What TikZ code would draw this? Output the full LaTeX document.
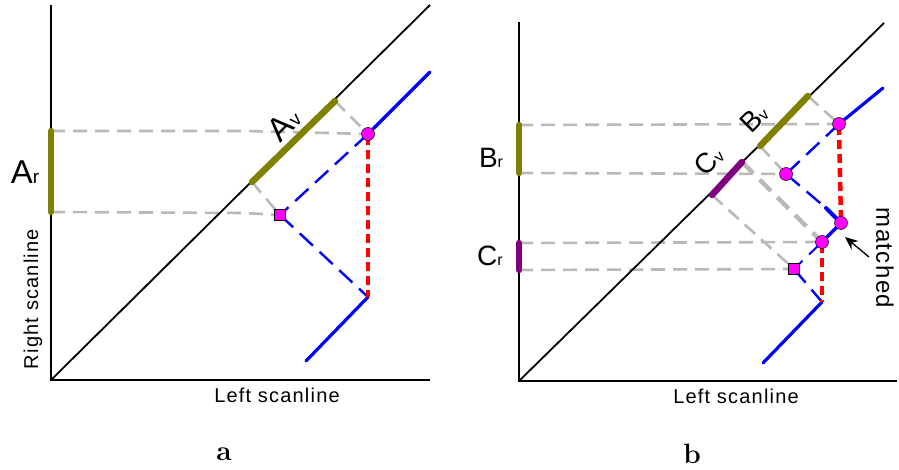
\documentclass[tikz,border=0pt]{standalone}
\usepackage{fontspec}
\newfontfamily\lab[LetterSpace=6]{Liberation Sans}
\newfontfamily\labn{Liberation Sans}
\usetikzlibrary{arrows.meta}
\definecolor{olivebar}{RGB}{128,128,0}
\definecolor{purplebar}{RGB}{128,0,128}
\definecolor{magpt}{RGB}{255,0,255}
\definecolor{grayline}{RGB}{185,185,185}
\tikzset{
  axis/.style={black,line width=2.1pt},
  rbar/.style={line width=6.5pt,line cap=round},
  proj/.style={grayline,line width=2.6pt,dash pattern=on 14pt off 8pt},
  projthick/.style={grayline,line width=4.5pt,dash pattern=on 16pt off 9pt},
  bsolid/.style={blue,line width=3.2pt,line cap=round},
  bdash/.style={blue,line width=2.4pt,dash pattern=on 18pt off 9pt},
  rdash/.style={red,line width=4.5pt,dash pattern=on 9pt off 5pt},
  dotc/.style={circle,fill=magpt,draw=black,line width=0.5pt,inner sep=0pt,minimum size=13pt},
  dots/.style={rectangle,fill=magpt,draw=black,line width=0.5pt,inner sep=0pt,minimum size=11pt},
  sublabA/.style={font=\labn\fontsize{33}{34}\selectfont,inner sep=0pt},
  sublabB/.style={font=\labn\fontsize{28}{30}\selectfont,inner sep=0pt},
  axlab/.style={font=\lab\fontsize{20}{22}\selectfont,inner sep=0pt},
}
\newcommand{\subt}[3]{#1{\fontsize{#3}{#3}\selectfont #2}}
\begin{document}
\begin{tikzpicture}[x=1pt,y=-1pt]
\useasboundingbox (0,0) rectangle (899,470);
% ================= panel a =================
\coordinate (aO) at (51,380);
\coordinate (aT) at (51,5);
\coordinate (aR) at (430,380);
\coordinate (aD) at (430,5);
\coordinate (ArT) at (51,131);
\coordinate (ArB) at (51,212);
\coordinate (AvB) at (252,182);
\coordinate (AvT) at (335,101);
\coordinate (aK) at (245,131);
\coordinate (aK2) at (245,213);
\coordinate (aBt) at (430,72);
\coordinate (aV) at (368,297);
\coordinate (aBe) at (306,361);
% gray projections
\draw[proj] (ArT) -- (aK) -- (368,134);
\draw[proj] (ArB) -- (aK2) -- (280,215);
\draw[proj] (AvT) -- (368,134);
\draw[proj] (AvB) -- (280,215);
% axes
\draw[axis] (aT) -- (aO) -- (aR);
\draw[axis,line width=1.8pt] (aO) -- (aD);
% bars
\draw[rbar,olivebar] (ArT) -- (ArB);
\draw[rbar,olivebar] (AvB) -- (AvT);
% blue
\draw[bsolid] (aBt) -- (368,134);
\draw[bdash] (368,134) -- (280,215);
\draw[bdash] (280,215) -- (aV);
\draw[bsolid] (aV) -- (aBe);
\draw[rdash] (368,136) -- (aV);
\node[dotc] (aP1) at (368,134) {};
\node[dots] (aP2) at (280,215) {};
% labels
\node[sublabA] (Ar) at (25,172) {\subt{A}{r}{19}};
\node[sublabA,rotate=45] (Av) at (284,124) {\subt{A}{v}{19}};
\node[axlab,rotate=90] (rsl) at (33,299) {Right scanline};
\node[axlab] (lsla) at (277,395) {Left scanline};
\node[font=\bfseries\fontsize{28}{30}\selectfont,inner sep=0pt] (la) at (224,454) {a};
% ================= panel b =================
\coordinate (bO) at (519,381);
\coordinate (bT) at (519,22);
\coordinate (bR) at (897,381);
\coordinate (bD) at (884,23);
\coordinate (BrT) at (519,125);
\coordinate (BrB) at (519,173);
\coordinate (CrT) at (519,243);
\coordinate (CrB) at (519,270);
\coordinate (BvB) at (760,146);
\coordinate (BvT) at (808,96);
\coordinate (CvB) at (712,195);
\coordinate (CvT) at (742,162);
\coordinate (P1) at (839,124);
\coordinate (P2) at (786,174);
\coordinate (P3) at (841,223);
\coordinate (P4) at (822,242);
\coordinate (P5) at (794,269);
\coordinate (bBt) at (883,88);
\coordinate (bV) at (822,302);
\coordinate (bBe) at (763,363);
\coordinate (bS) at (826,208);
% gray projections
\draw[proj] (BrT) -- (P1);
\draw[proj] (BrB) -- (P2);
\draw[proj] (CrT) -- (P4);
\draw[proj] (CrB) -- (P5);
\draw[proj] (BvT) -- (P1);
\draw[proj] (BvB) -- (P2);
\draw[projthick] (CvT) -- (P4);
\draw[proj] (CvB) -- (P5);
% axes
\draw[axis] (bT) -- (bO) -- (bR);
\draw[axis,line width=1.8pt] (bO) -- (bD);
% bars
\draw[rbar,olivebar] (BrT) -- (BrB);
\draw[rbar,purplebar] (CrT) -- (CrB);
\draw[rbar,olivebar] (BvB) -- (BvT);
\draw[rbar,purplebar] (CvB) -- (CvT);
% blue
\draw[bsolid] (bBt) -- (P1);
\draw[bdash] (P1) -- (P2);
\draw[bdash] (P2) -- (bS);
\draw[bsolid,line width=4pt] (bS) -- (P3);
\draw[bsolid] (P3) -- (P4);
\draw[bdash,line width=2pt] (P4) -- (P5);
\draw[bdash] (P5) -- (bV);
\draw[bsolid] (bV) -- (bBe);
\draw[rdash] (839,126) -- (P3);
\draw[rdash] (822,244) -- (bV);
\node[dotc] (bP1) at (P1) {};
\node[dotc] (bP2) at (P2) {};
\node[dotc] (bP3) at (P3) {};
\node[dotc] (bP4) at (P4) {};
\node[dots] (bP5) at (P5) {};
% labels
\node[sublabB] (Br) at (491,158) {\subt{B}{r}{16}};
\node[sublabB] (Cr) at (490,256) {\subt{C}{r}{16}};
\node[sublabB,rotate=45] (Bv) at (754,118) {\subt{B}{v}{16}};
\node[sublabB,rotate=45] (Cv) at (709,161) {\subt{C}{v}{16}};
\node[axlab,font=\lab\fontsize{24}{25}\selectfont,rotate=-90] (mt) at (885,258) {matched};
\coordinate (arS) at (869,257);
\coordinate (arE) at (845,237);
\draw[black,line width=1.3pt,-{Stealth[length=13pt,width=11pt]}] (arS) -- (arE);
\node[axlab] (lslb) at (736,396) {Left scanline};
\node[font=\bfseries\fontsize{28}{30}\selectfont,inner sep=0pt] (lb) at (692,454) {b};
\end{tikzpicture}
\end{document}
